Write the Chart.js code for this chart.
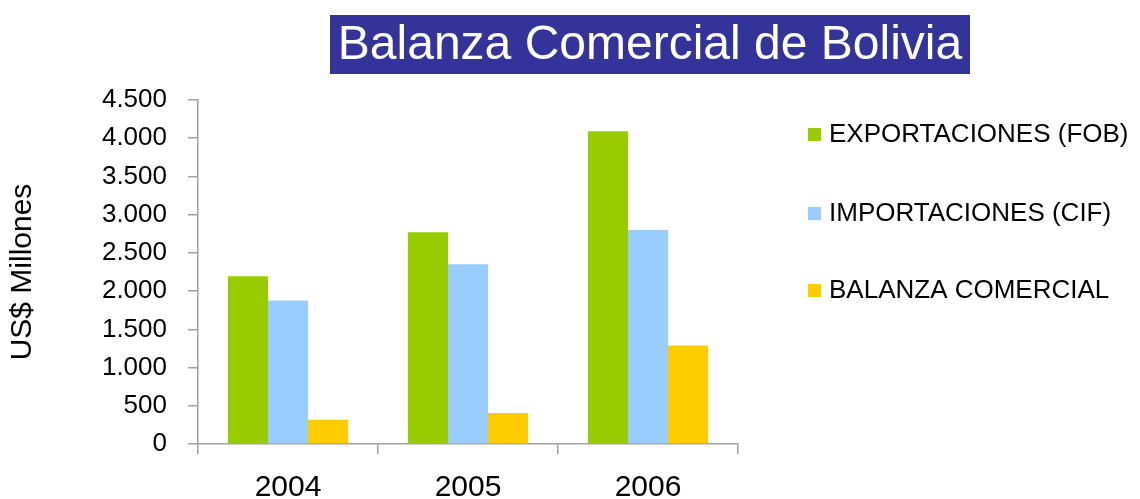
<!DOCTYPE html>
<html lang="es">
<head>
    <meta charset="UTF-8">
    <title>Balanza Comercial de Bolivia</title>
    <script src="https://cdn.jsdelivr.net/npm/chart.js"></script>
    <style>
        html, body { margin: 0; padding: 0; background: #fff; }
        canvas { display: block; }
    </style>
</head>
<body>
    <canvas id="balanzaChart" width="1140" height="499"></canvas>

    <script>
        // datos (US$ millones)
        const years = ["2004", "2005", "2006"];
        const exportaciones = [2195, 2771, 4090];
        const importaciones = [1878, 2352, 2800];
        const balanza = [318, 405, 1290];
        const seriesNames = ["EXPORTACIONES (FOB)", "IMPORTACIONES (CIF)", "BALANZA COMERCIAL"];
        const seriesColors = ["#99CC00", "#99CCFF", "#FFCC00"];
        const yMin = 0, yMax = 4500, yStep = 500;
        const chartTitle = "Balanza Comercial de Bolivia";
        const yTitle = "US$ Millones";

        const FONT = "'Liberation Sans', Arial, sans-serif";
        const AXIS = "#A0A0A0";

        // miles con punto: 4500 -> 4.500
        function fmt(v) {
            return String(v).replace(/\B(?=(\d{3})+(?!\d))/g, ".");
        }

        // recuadro azul del titulo
        const titleBox = {
            id: "titleBox",
            afterDraw(chart) {
                const ctx = chart.ctx;
                ctx.save();
                ctx.fillStyle = "#333399";
                ctx.fillRect(330, 15, 640, 59);
                ctx.fillStyle = "#fff";
                ctx.font = "48px " + FONT;
                ctx.textAlign = "center";
                ctx.textBaseline = "middle";
                ctx.fillText(chartTitle, 650, 46);
                ctx.restore();
            }
        };

        // leyenda a la derecha
        const sideLegend = {
            id: "sideLegend",
            afterDraw(chart) {
                const ctx = chart.ctx;
                const rows = [134, 213, 290];
                ctx.save();
                ctx.font = "26px " + FONT;
                ctx.textBaseline = "middle";
                chart.data.datasets.forEach((ds, i) => {
                    ctx.fillStyle = ds.backgroundColor;
                    ctx.fillRect(808, rows[i] - 6, 13, 13);
                    ctx.fillStyle = "#000";
                    ctx.fillText(ds.label, 829, rows[i] + 1);
                });
                ctx.restore();
            }
        };

        const seriesData = [exportaciones, importaciones, balanza];

        new Chart(document.getElementById("balanzaChart"), {
            type: "bar",
            data: {
                labels: years,
                datasets: seriesNames.map((name, i) => ({
                    label: name,
                    data: seriesData[i],
                    backgroundColor: seriesColors[i],
                    borderWidth: 0,
                    barPercentage: 1,
                    categoryPercentage: 0.667
                }))
            },
            options: {
                responsive: false,
                animation: false,
                layout: { padding: { top: 100, right: 402, bottom: 0, left: 0 } },
                plugins: {
                    legend: { display: false },
                    title: { display: false },
                    tooltip: { enabled: false }
                },
                scales: {
                    x: {
                        afterFit(scale) { scale.height = 55; },
                        grid: {
                            offset: true,
                            drawOnChartArea: false,
                            tickLength: 10,
                            color: AXIS,
                            lineWidth: 1.5
                        },
                        border: { color: AXIS, width: 1.5 },
                        ticks: {
                            color: "#000",
                            font: { family: FONT, size: 30 },
                            padding: 16,
                            maxRotation: 0
                        }
                    },
                    y: {
                        min: yMin,
                        max: yMax,
                        afterFit(scale) { scale.width = 198; },
                        grid: {
                            drawOnChartArea: false,
                            tickLength: 10,
                            color: AXIS,
                            lineWidth: 1.5
                        },
                        border: { color: AXIS, width: 1.5 },
                        ticks: {
                            stepSize: yStep,
                            color: "#000",
                            font: { family: FONT, size: 26 },
                            padding: 21,
                            callback: v => fmt(v)
                        },
                        title: {
                            display: true,
                            text: yTitle,
                            color: "#000",
                            font: { family: FONT, size: 30 },
                            padding: { top: 5, bottom: 0 }
                        }
                    }
                }
            },
            plugins: [titleBox, sideLegend]
        });
    </script>
</body>
</html>
